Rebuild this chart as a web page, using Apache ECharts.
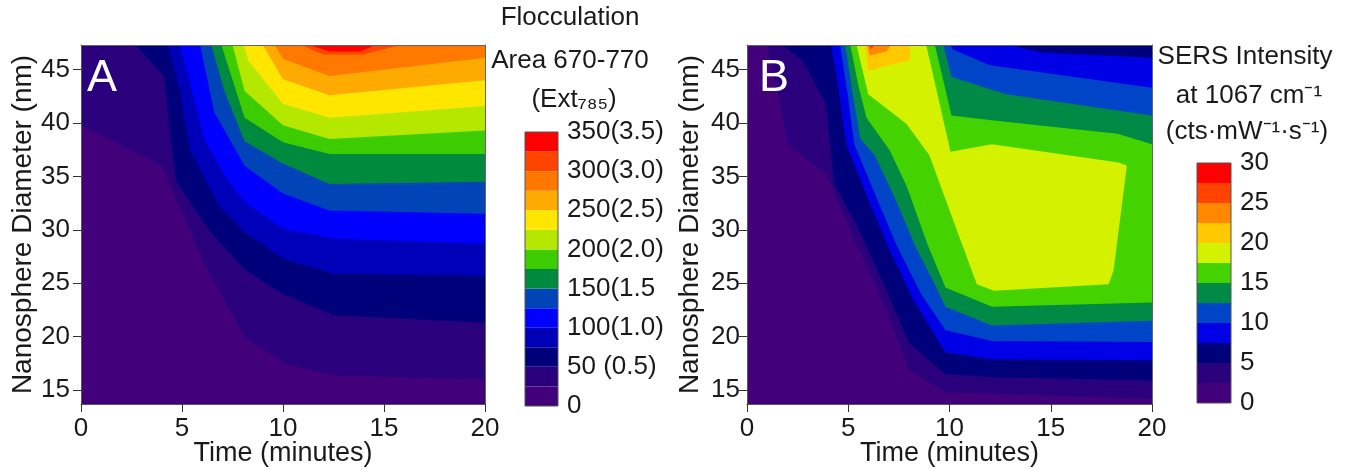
<!DOCTYPE html>
<html><head><meta charset="utf-8">
<script src="https://cdn.jsdelivr.net/npm/echarts@6/dist/echarts.min.js"></script>
<style>html,body{margin:0;padding:0;background:#fff}#c{width:1345px;height:470px}</style>
</head><body><div id="c"></div>
<script>
// ================= DATA =================
const timeRange = [0, 20];
const diameterRange = [13.7, 47.3];
const timeTicks = [0, 5, 10, 15, 20];
const diameterTicks = [15, 20, 25, 30, 35, 40, 45];

// Panel A: contour levels (band lower bounds) and colours
const levelsA = [0, 25, 50, 75, 100, 125, 150, 175, 200, 225, 250, 275, 300, 325, 350];
const colorsA = ['#42007a', '#2a007c', '#00007a', '#0000b8', '#0000ff', '#0044b8', '#008a3e',
                 '#3ccc00', '#b4e800', '#ffe600', '#ffaa00', '#ff7800', '#ff4400', '#ff0000'];
const cbTickValuesA = [0, 50, 100, 150, 200, 250, 300, 350];
const cbTickLabelsA = ['0', '50 (0.5)', '100(1.0)', '150(1.5', '200(2.0)', '250(2.5)', '300(3.0)', '350(3.5)'];

// Panel A contour lines [time, diameter]; values >= level lie above each line
const aLine25  = [[0, 39.8], [4.0, 36.0], [6.1, 26.8], [8.1, 20.0], [10.2, 17.4], [12.5, 16.4], [20, 16.0]];
const aLine50  = [[2.7, 47.3], [4.1, 44.4], [4.7, 34.6], [6.4, 29.8], [8.1, 26.3], [10.0, 24.0], [12.5, 22.0], [20, 21.3]];
const aLine75  = [[4.3, 47.3], [4.9, 43.0], [5.4, 37.5], [6.8, 32.3], [8.1, 29.8], [10.0, 27.3], [12.5, 25.9], [20, 25.7]];
const aLine100 = [[4.9, 47.3], [5.5, 43.0], [6.1, 38.5], [7.2, 34.8], [8.1, 32.6], [10.0, 30.1], [12.5, 29.2], [20, 28.7]];
const aLine125 = [[5.9, 47.3], [6.6, 41.0], [8.1, 36.0], [10.0, 33.4], [12.3, 31.8], [20, 31.5]];
const aLine150 = [[6.45, 47.3], [7.1, 43.0], [8.1, 38.3], [10.0, 36.2], [12.3, 34.3], [20, 34.5]];
const aLine175 = [[6.95, 47.3], [8.1, 40.5], [10.0, 38.2], [12.3, 37.1], [20, 37.1]];
const aLine200 = [[7.5, 47.3], [8.1, 43.0], [10.0, 39.8], [12.3, 38.5], [20, 39.3]];
const aLine225 = [[8.05, 47.3], [8.3, 45.8], [10.0, 41.8], [12.3, 40.5], [20, 41.6]];
const aLine250 = [[9.0, 47.3], [10.0, 44.1], [12.3, 42.6], [20, 44.0]];
const aLine275 = [[9.6, 47.3], [10.0, 46.0], [12.3, 44.4], [20, 46.1]];
const aLine300 = [[10.9, 47.3], [12.0, 46.4], [14.0, 46.4], [15.8, 47.3]];
const aLine325 = [[11.3, 47.3], [12.3, 46.7], [13.8, 46.7], [14.6, 47.3]];

// Panel B: contour levels and colours
const levelsB = [0, 2.5, 5, 7.5, 10, 12.5, 15, 17.5, 20, 22.5, 25, 27.5, 30];
const colorsB = ['#42007a', '#2a007c', '#00007a', '#0000e6', '#0044c8', '#008a46',
                 '#44d200', '#d4f200', '#ffc800', '#ff8800', '#ff4400', '#ff0000'];
const cbTickValuesB = [0, 5, 10, 15, 20, 25, 30];
const cbTickLabelsB = ['0', '5', '10', '15', '20', '25', '30'];

// Panel B lower-left contour lines (rising side) [time, diameter]
const bLow25  = [[1.0, 47.3], [1.6, 42.1], [2.0, 38.0], [3.9, 35.2], [5.4, 28.7], [6.9, 22.4], [8.0, 16.9], [9.8, 14.8], [12.1, 14.65], [20, 14.2]];
const bLow50  = [[1.75, 47.3], [2.75, 45.8], [3.9, 41.8], [4.3, 34.3], [5.4, 30.5], [6.9, 24.3], [8.0, 19.4], [9.8, 16.5], [12.1, 16.2], [20, 15.9]];
const bLow75  = [[4.15, 47.3], [4.5, 43.5], [4.9, 38.0], [6.0, 32.8], [7.0, 28.3], [8.2, 23.5], [9.8, 18.55], [12.1, 17.9], [20, 17.8]];
const bLow100 = [[4.6, 47.3], [4.95, 43.0], [5.3, 38.0], [6.4, 33.0], [7.4, 28.5], [8.6, 24.0], [9.8, 20.6], [12.1, 19.6], [20, 19.5]];
const bLow125 = [[4.85, 47.3], [5.2, 43.0], [5.6, 38.5], [6.3, 37.0], [7.3, 33.0], [8.3, 28.5], [9.3, 24.8], [9.8, 22.8], [12.1, 21.05], [20, 21.5]];
const bLow150 = [[5.1, 47.3], [5.5, 43.5], [5.9, 40.5], [7.06, 37.4], [7.9, 34.0], [8.9, 28.7], [9.8, 24.6], [12.1, 22.8], [20, 23.2]];
// Panel B upper-right contour lines (falling side)
const bHigh75  = [[13.0, 47.3], [14.5, 46.6], [20, 46.1]];
const bHigh100 = [[10.05, 47.3], [10.15, 46.9], [12.0, 45.4], [20, 43.3]];
const bHigh125 = [[9.7, 47.3], [10.1, 44.3], [12.8, 42.7], [20, 40.7]];
const bHigh150 = [[9.28, 47.3], [10.1, 40.7], [12.3, 40.2], [18.3, 39.0], [20, 38.0]];
// Panel B closed regions
const bRegion175 = [[5.41, 47.3], [5.99, 42.7], [7.88, 39.9], [9.0, 37.0], [9.7, 33.4], [11.35, 24.9], [12.2, 24.3],
                    [17.86, 24.9], [18.1, 26.2], [18.76, 36.0], [18.35, 36.3], [12.09, 38.0], [10.05, 37.3], [8.85, 47.3]];
const bRegion200 = [[5.82, 47.3], [5.99, 44.9], [8.05, 45.9], [8.05, 47.3]];
const bRegion225 = [[5.95, 47.3], [6.05, 46.3], [6.9, 46.7], [7.1, 47.3]];
const bRegion250 = [[6.0, 47.3], [6.1, 46.9], [6.35, 47.3]];

// ================= BUILD =================
const F = '"Liberation Sans", Arial, sans-serif';
const TC = '#1a1a1a';
const tMin = timeRange[0], tMax = timeRange[1], dMin = diameterRange[0], dMax = diameterRange[1];

function closeAbove(line) {           // region above a line, closed along top / right edges
  const p = line.slice();
  if (p[p.length - 1][0] === tMax) p.push([tMax, dMax]);
  if (p[0][0] === tMin) p.push([tMin, dMax]);
  return p;
}
function band(low, high) { return low.concat(high.slice().reverse()); }

const fullRect = [[tMin, dMin], [tMax, dMin], [tMax, dMax], [tMin, dMax]];
const aLines = [aLine25, aLine50, aLine75, aLine100, aLine125, aLine150, aLine175, aLine200, aLine225, aLine250, aLine275, aLine300, aLine325];
const polysA = [fullRect].concat(aLines.map(closeAbove));
const polysB = [fullRect, closeAbove(bLow25), closeAbove(bLow50), band(bLow75, bHigh75), band(bLow100, bHigh100),
                band(bLow125, bHigh125), band(bLow150, bHigh150), bRegion175, bRegion200, bRegion225, bRegion250];

function contourSeries(polys, colors, idx) {
  return {
    type: 'custom', coordinateSystem: 'cartesian2d', xAxisIndex: idx, yAxisIndex: idx,
    clip: true, silent: true, z: 2,
    data: polys.map((p, i) => [p[0][0], p[0][1], i]),
    encode: { x: 0, y: 1 },
    renderItem(params, api) {
      const i = api.value(2);
      return { type: 'polygon', z2: i, shape: { points: polys[i].map(pt => api.coord(pt)) },
               style: { fill: colors[i] } };
    }
  };
}

function mainX(gi) {
  return { type: 'value', gridIndex: gi, min: tMin, max: tMax, interval: 5, z: 10,
    axisLine: { show: true, onZero: false, lineStyle: { color: '#555', width: 1 } },
    axisTick: { show: true, length: 8, lineStyle: { color: '#333' } },
    axisLabel: { margin: 12, fontFamily: F, fontSize: 26, color: TC },
    splitLine: { show: false },
    name: 'Time (minutes)', nameLocation: 'middle', nameGap: 36, nameMoveOverlap: false,
    nameTextStyle: { fontFamily: F, fontSize: 27, color: TC } };
}
function mainY(gi, margin, gap) {
  return { type: 'value', gridIndex: gi, min: dMin, max: dMax, z: 10,
    axisLine: { show: true, onZero: false, lineStyle: { color: '#555', width: 1 } },
    axisTick: { show: true, length: 8, customValues: diameterTicks, lineStyle: { color: '#333' } },
    axisLabel: { margin: margin, customValues: diameterTicks, fontFamily: F, fontSize: 26, color: TC },
    splitLine: { show: false },
    name: 'Nanosphere Diameter (nm)', nameLocation: 'middle', nameGap: gap, nameRotate: 90, nameMoveOverlap: false,
    nameTextStyle: { fontFamily: F, fontSize: 28, color: TC } };
}
function frameX(gi) {
  return { type: 'value', gridIndex: gi, min: tMin, max: tMax, position: 'top', z: 10,
    axisLine: { show: true, onZero: false, lineStyle: { color: '#666', width: 1 } },
    axisTick: { show: false }, axisLabel: { show: false }, splitLine: { show: false } };
}
function frameY(gi) {
  return { type: 'value', gridIndex: gi, min: dMin, max: dMax, position: 'right', z: 10,
    axisLine: { show: true, onZero: false, lineStyle: { color: '#666', width: 1 } },
    axisTick: { show: false }, axisLabel: { show: false }, splitLine: { show: false } };
}
function cbX(gi) { return { type: 'category', gridIndex: gi, data: ['bar'], show: false }; }
function cbY(gi, levels, vals, labels, interval) {
  return { type: 'value', gridIndex: gi, position: 'right', min: levels[0], max: levels[levels.length - 1], interval: interval,
    axisLine: { show: false }, axisTick: { show: false }, splitLine: { show: false },
    axisLabel: { margin: 9, fontFamily: F, fontSize: 26, color: TC,
      formatter: v => { const k = vals.indexOf(v); return k >= 0 ? labels[k] : ''; } } };
}
function cbSeries(levels, colors, idx, stack) {
  const out = [];
  for (let i = 0; i < colors.length; i++) {
    out.push({ type: 'bar', xAxisIndex: idx, yAxisIndex: idx, stack: stack, barWidth: '100%', silent: true,
      data: [levels[i + 1] - levels[i]], itemStyle: { color: colors[i] } });
  }
  out.push({ type: 'custom', coordinateSystem: 'cartesian2d', xAxisIndex: idx, yAxisIndex: idx, silent: true, z: 5,
    data: [[0, levels[0]]],
    renderItem(params, api) {
      const bottom = api.coord([0, levels[0]]);
      const top = api.coord([0, levels[levels.length - 1]]);
      const w = api.size([1, 0])[0];
      return { type: 'rect', shape: { x: bottom[0] - w / 2, y: top[1], width: w, height: bottom[1] - top[1] },
               style: { fill: 'none', stroke: '#555', lineWidth: 1 } };
    } });
  return out;
}

const titleFont = '26px "Liberation Sans", Arial, sans-serif';
const G = { outerBoundsMode: 'none', containLabel: false };
const chart = echarts.init(document.getElementById('c'), null, { renderer: 'canvas' });
chart.setOption({
  animation: false,
  backgroundColor: '#ffffff',
  textStyle: { fontFamily: F },
  grid: [
    Object.assign({ left: 81, top: 45, width: 404, height: 359 }, G),
    Object.assign({ left: 747, top: 45, width: 405, height: 359 }, G),
    Object.assign({ left: 525, top: 132, width: 33, height: 274 }, G),
    Object.assign({ left: 1197, top: 163, width: 34, height: 240 }, G)
  ],
  xAxis: [mainX(0), mainX(1), frameX(0), frameX(1), cbX(2), cbX(3)],
  yAxis: [mainY(0, 11, 44), mainY(1, 7, 43), frameY(0), frameY(1),
          cbY(2, levelsA, cbTickValuesA, cbTickLabelsA, 50), cbY(3, levelsB, cbTickValuesB, cbTickLabelsB, 5)],
  series: [contourSeries(polysA, colorsA, 0), contourSeries(polysB, colorsB, 1)]
    .concat(cbSeries(levelsA, colorsA, 4, 'cbA'))
    .concat(cbSeries(levelsB, colorsB, 5, 'cbB')),
  graphic: [
    { type: 'text', x: 87, y: 79, z: 20, style: { text: 'A', fill: '#ffffff', font: '45px "Liberation Sans", Arial, sans-serif', textVerticalAlign: 'middle' } },
    { type: 'text', x: 759, y: 79, z: 20, style: { text: 'B', fill: '#ffffff', font: '45px "Liberation Sans", Arial, sans-serif', textVerticalAlign: 'middle' } },
    { type: 'text', x: 570, y: 18, style: { text: 'Flocculation', fill: TC, font: titleFont, textAlign: 'center', textVerticalAlign: 'middle' } },
    { type: 'text', x: 570, y: 61, style: { text: 'Area 670-770', fill: TC, font: titleFont, textAlign: 'center', textVerticalAlign: 'middle' } },
    { type: 'text', x: 574, y: 100, style: { text: '(Ext\u2087\u2088\u2085)', fill: TC, font: titleFont, textAlign: 'center', textVerticalAlign: 'middle' } },
    { type: 'text', x: 1245, y: 57, style: { text: 'SERS Intensity', fill: TC, font: titleFont, textAlign: 'center', textVerticalAlign: 'middle' } },
    { type: 'text', x: 1249, y: 96, style: { text: 'at 1067 cm\u207B\u00B9', fill: TC, font: titleFont, textAlign: 'center', textVerticalAlign: 'middle' } },
    { type: 'text', x: 1247, y: 132, style: { text: '(cts\u00B7mW\u207B\u00B9\u00B7s\u207B\u00B9)', fill: TC, font: titleFont, textAlign: 'center', textVerticalAlign: 'middle' } }
  ]
});
</script></body></html>
